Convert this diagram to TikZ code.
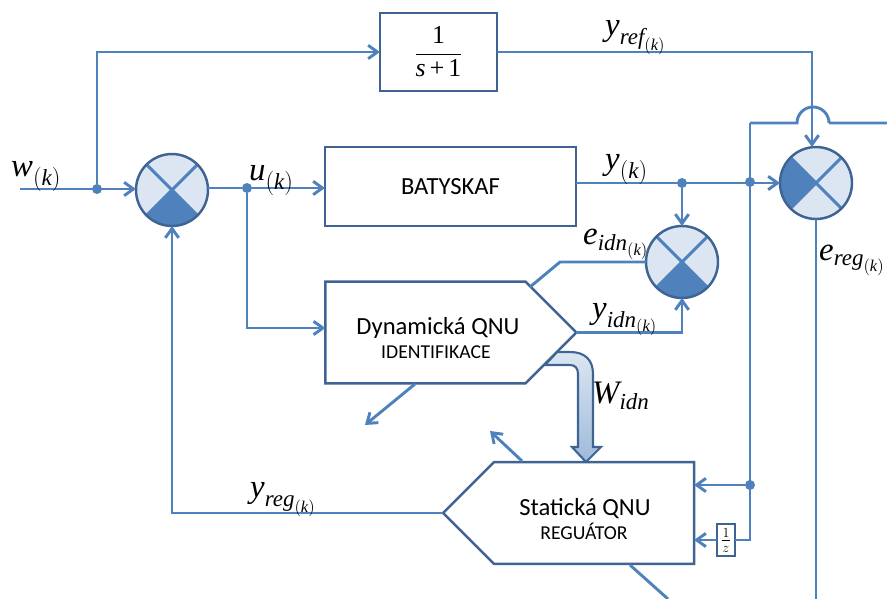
\documentclass[tikz,border=0pt]{standalone}
\usepackage{amsmath}
\usepackage{fontspec}
\setmainfont{Carlito}
\newfontfamily\labfont{Liberation Serif}
\usetikzlibrary{arrows.meta,shapes.symbols,positioning}
\definecolor{wirecol}{HTML}{4F81BD}
\definecolor{edgecol}{HTML}{3F6493}
\definecolor{lightcol}{HTML}{DCE6F2}
\newcommand{\vr}[1]{\text{\labfont\itshape #1}}
\tikzset{
    wire/.style={draw=wirecol, line width=2.5pt},
    arrowwire/.style={wire, -{Straight Barb[length=2.8mm,width=4mm]}},
    blockbox/.style={rectangle, draw=edgecol, line width=2.1pt, fill=white, outer sep=0pt},
    qnubox/.style={signal, signal from=nowhere, signal pointer angle=90, draw=edgecol,
        line width=2.1pt, fill=white, outer sep=0pt, inner sep=0pt,
        minimum width=7.53cm, minimum height=3.05cm},
    sumbox/.style={circle, fill=lightcol, minimum size=2.16cm, inner sep=0pt, outer sep=0pt},
    junction/.style={circle, fill=wirecol, minimum size=.3cm, inner sep=0pt},
    biglabel/.style={font=\fontsize{28}{30}\selectfont, inner sep=0pt},
    boxtext/.style={font=\fontsize{21}{24}\selectfont, inner sep=0pt},
    smalltext/.style={font=\fontsize{16.8}{19}\selectfont, inner sep=0pt},
}

\begin{document}
\begin{tikzpicture}[x=.03cm,y=-.03cm]
\useasboundingbox (0,0) rectangle (887,599);
\clip (0,0) rectangle (887,599);

% adder circles
\foreach \name/\px/\py/\dark in {sumw/172/190/225, sumi/682/262/225, sumr/816/183/135}{
    \node[sumbox] (\name) at (\px,\py) {};
    \pgfmathtruncatemacro{\darkend}{\dark+90}
    \fill[wirecol] (\name.center) -- (\name.\dark)
        arc[start angle=\dark, end angle=\darkend, radius=1.08cm] -- cycle;
    \draw[wire] (\name.45) -- (\name.225) (\name.135) -- (\name.315);
    \draw[edgecol, line width=2.1pt] (\name.east) arc[start angle=0, end angle=360, radius=1.08cm];
}

% weights arrow
\shade[draw=edgecol, line width=1.8pt, top color=lightcol, bottom color=wirecol!55!white]
    (557,352) -- (570,352) .. controls (585,352) and (593,360) .. (593,374)
    -- (593,447) -- (601,447) -- (586,462) -- (572,447) -- (578,447) -- (578,374)
    .. controls (578,368) and (575,365) .. (570,365) -- (545,365) -- cycle;

\node[blockbox, minimum width=3.51cm, minimum height=2.34cm] (tf) at (438.5,52) {};
\node[font=\fontsize{22}{24}\selectfont, inner sep=0pt] (tftext) at (tf)
    {$\displaystyle\frac{\text{\labfont 1}}{\vr{s}\,\text{\labfont +}\,\text{\labfont 1}}$};
\node[blockbox, minimum width=7.53cm, minimum height=2.37cm, boxtext] (baty) at (450.5,186.5) {BATYSKAF};
\node[qnubox, signal to=east] (dyn) at (425.5,332.5) {};
\node[qnubox, signal to=west] (stat) at (594,513) {};
\node[boxtext, anchor=base] (dyntext) at (438,335) {Dynamická QNU};
\node[smalltext, anchor=base] (dynsub) at (436,359) {IDENTIFIKACE};
\node[boxtext, anchor=base] (stattext) at (585,515) {Statická QNU};
\node[smalltext, anchor=base] (statsub) at (584,539) {REGUÁTOR};
\node[blockbox, line width=1.7pt, minimum width=.54cm, minimum height=.96cm, inner sep=0pt,
    font=\fontsize{17}{18}\selectfont] (delay) at (726,540) {$\frac{1}{z}$};

% branch points
\node[junction] (jw) at (97,189) {};
\node[junction] (ju) at (247,188) {};
\node[junction] (jy) at (682,183) {};
\node[junction] (jv) at (750,182) {};
\node[junction] (js) at (750,485) {};
\coordinate (winput) at (20,189);
\coordinate (bend) at (750,123);
\coordinate (humpin) at (797,123);
\coordinate (humpout) at (829,123);
\coordinate (wout) at (887,123);
\coordinate (dlybend) at (750,540);
\coordinate (reftop) at (812,147);
\coordinate (erend) at (816,599);

\draw[arrowwire] (winput) -- (sumw.west |- winput);
\draw[arrowwire] (jw) |- (tf.west);
\draw[wire] (tf.east) -| (812,100);
\draw[arrowwire] (812,100) -- (reftop);
\draw[wire] (sumw.east |- ju) -- (ju);
\draw[arrowwire] (ju) -- (baty.west |- ju);
\draw[arrowwire] (ju) |- (dyn.west |- 0,328);
\draw[arrowwire] (baty.east |- jy) -- (sumr.west);
\draw[arrowwire] (jy) -- (sumi.north);
\draw[wire] (bend) -- (dlybend) -- (delay.east);
\draw[wire] (bend) -- (humpin) arc[start angle=180, end angle=0, radius=.48cm] -- (humpout) -- (wout);
\draw[arrowwire] (js) -- (js -| stat.east);
\draw[arrowwire] (delay.west) -- (delay.west -| stat.east);
\draw[wire] (sumr.south) -- (erend);
\draw[wire] (530,287) -- (560,262) -- (sumi.west);
\draw[arrowwire] (dyn.east) -| (sumi.south);
\draw[arrowwire] (stat.west) -| (sumw.south);
\draw[arrowwire] (415,384) -- (365,425);
\draw[arrowwire] (522,461) -- (490,431);
\draw[wire] (630,565) -- (668,599);

% signal names
\node[biglabel, anchor=base west] (lw) at (11,177) {$\vr{w}_{(\vr{k})}$};
\node[biglabel, anchor=base west] (lu) at (249,181) {$\vr{u}_{(\vr{k})}$};
\node[biglabel, anchor=base west] (ly) at (605,170) {$\vr{y}_{(\vr{k})}$};
\node[biglabel, anchor=base west] (lref) at (605,36) {$\vr{y}_{\vr{ref}_{(\vr{k})}}$};
\node[biglabel, anchor=base west] (leid) at (583,245) {$\vr{e}_{\vr{idn}_{(\vr{k})}}$};
\node[biglabel, anchor=base west] (lyid) at (592,319) {$\vr{y}_{\vr{idn}_{(\vr{k})}}$};
\node[biglabel, anchor=base west] (lwid) at (592,404) {$\vr{W}_{\vr{idn}}$};
\node[biglabel, anchor=base west] (lyreg) at (250,498) {$\vr{y}_{\vr{reg}_{(\vr{k})}}$};
\node[biglabel, anchor=base west] (lereg) at (819,261) {$\vr{e}_{\vr{reg}_{(\vr{k})}}$};
\end{tikzpicture}
\end{document}
